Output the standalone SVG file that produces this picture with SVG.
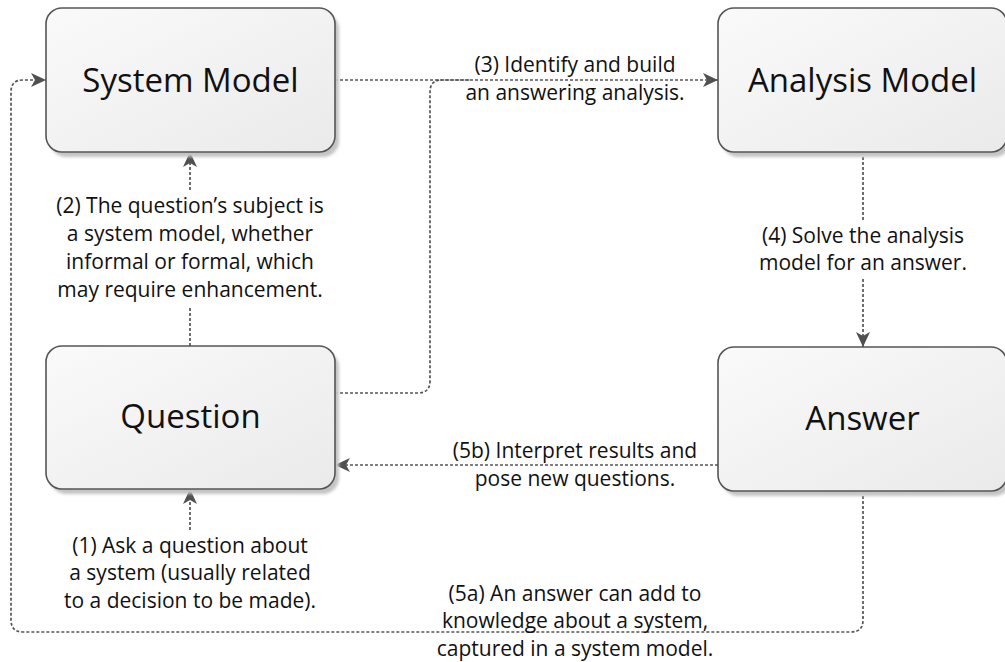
<svg xmlns="http://www.w3.org/2000/svg" width="1005" height="662" viewBox="0 0 1005 662">
  <defs>
    <linearGradient id="boxFill" x1="0" y1="0" x2="1" y2="1">
      <stop offset="0" stop-color="#fafafa"/>
      <stop offset="1" stop-color="#eaeaea"/>
    </linearGradient>
    <filter id="soft" x="-10%" y="-10%" width="120%" height="130%">
      <feGaussianBlur stdDeviation="1.5"/>
    </filter>
    <marker id="arrow" markerUnits="userSpaceOnUse" markerWidth="17" markerHeight="15" refX="15" refY="7" orient="auto">
      <path d="M0,0 L15,7 L0,14 L4,7 Z" fill="#505050"/>
    </marker>
  </defs>
  <style>
    .shadow { fill: #c4c4c4; filter: url(#soft); }
    .box { fill: url(#boxFill); stroke: #555; stroke-width: 1.6; }
    .title { font-family: "Open Sans", "Noto Sans", sans-serif; font-size: 33px; fill: #111; text-anchor: middle; }
    .label { font-family: "Open Sans", "Noto Sans", sans-serif; font-size: 21px; fill: #111; text-anchor: middle; }
    .link { fill: none; stroke: #555; stroke-width: 1.7; stroke-dasharray: 3 2; }
  </style>

  <rect width="1005" height="662" fill="#ffffff"/>

  <!-- connectors -->
  <g id="connectors">
    <!-- (3) System Model to Analysis Model -->
    <path class="link" d="M335,80 H718" marker-end="url(#arrow)"/>
    <!-- Question joins the (3) path -->
    <path class="link" d="M335,393 H418 Q430,393 430,381 V92 Q430,80 442,80 H470"/>
    <!-- (4) Analysis Model to Answer -->
    <path class="link" d="M863,152 V220 M863,279 V347" marker-end="url(#arrow)"/>
    <!-- (5b) Answer back to Question -->
    <path class="link" d="M718,465 H335" marker-end="url(#arrow)"/>
    <!-- (2) Question to System Model -->
    <path class="link" d="M190,346 V307 M190,190 V152" marker-end="url(#arrow)"/>
    <!-- (1) entry into Question -->
    <path class="link" d="M190,530 V489" marker-end="url(#arrow)"/>
    <!-- (5a) Answer loops back to System Model -->
    <path class="link" d="M863,491 V620 Q863,632 851,632 H23 Q11,632 11,620 V92 Q11,80 23,80 H46" marker-end="url(#arrow)"/>
  </g>

  <!-- nodes -->
  <g id="system-model">
    <rect class="shadow" x="50" y="13" width="289" height="144" rx="16"/>
    <rect class="box" x="46" y="8" width="289" height="144" rx="16"/>
    <text class="title" x="190.5" y="91.5">System Model</text>
  </g>
  <g id="analysis-model">
    <rect class="shadow" x="722" y="13" width="289" height="144" rx="16"/>
    <rect class="box" x="718" y="8" width="289" height="144" rx="16"/>
    <text class="title" x="862.5" y="91.5">Analysis Model</text>
  </g>
  <g id="question">
    <rect class="shadow" x="50" y="351" width="289" height="143" rx="16"/>
    <rect class="box" x="46" y="346" width="289" height="143" rx="16"/>
    <text class="title" x="190.5" y="428">Question</text>
  </g>
  <g id="answer">
    <rect class="shadow" x="722" y="352" width="289" height="144" rx="16"/>
    <rect class="box" x="718" y="347" width="289" height="144" rx="16"/>
    <text class="title" x="862.5" y="430">Answer</text>
  </g>

  <!-- connector labels -->
  <g id="labels">
    <text class="label" x="575" y="72">(3) Identify and build</text>
    <text class="label" x="575" y="100">an answering analysis.</text>

    <text class="label" x="190" y="213">(2) The question’s subject is</text>
    <text class="label" x="190" y="241">a system model, whether</text>
    <text class="label" x="190" y="269">informal or formal, which</text>
    <text class="label" x="190" y="297">may require enhancement.</text>

    <text class="label" x="863" y="243">(4) Solve the analysis</text>
    <text class="label" x="863" y="270">model for an answer.</text>

    <text class="label" x="575" y="458">(5b) Interpret results and</text>
    <text class="label" x="575" y="486">pose new questions.</text>

    <text class="label" x="190" y="553">(1) Ask a question about</text>
    <text class="label" x="190" y="580">a system (usually related</text>
    <text class="label" x="190" y="608">to a decision to be made).</text>

    <text class="label" x="575" y="601">(5a) An answer can add to</text>
    <text class="label" x="575" y="628">knowledge about a system,</text>
    <text class="label" x="575" y="656">captured in a system model.</text>
  </g>
</svg>
